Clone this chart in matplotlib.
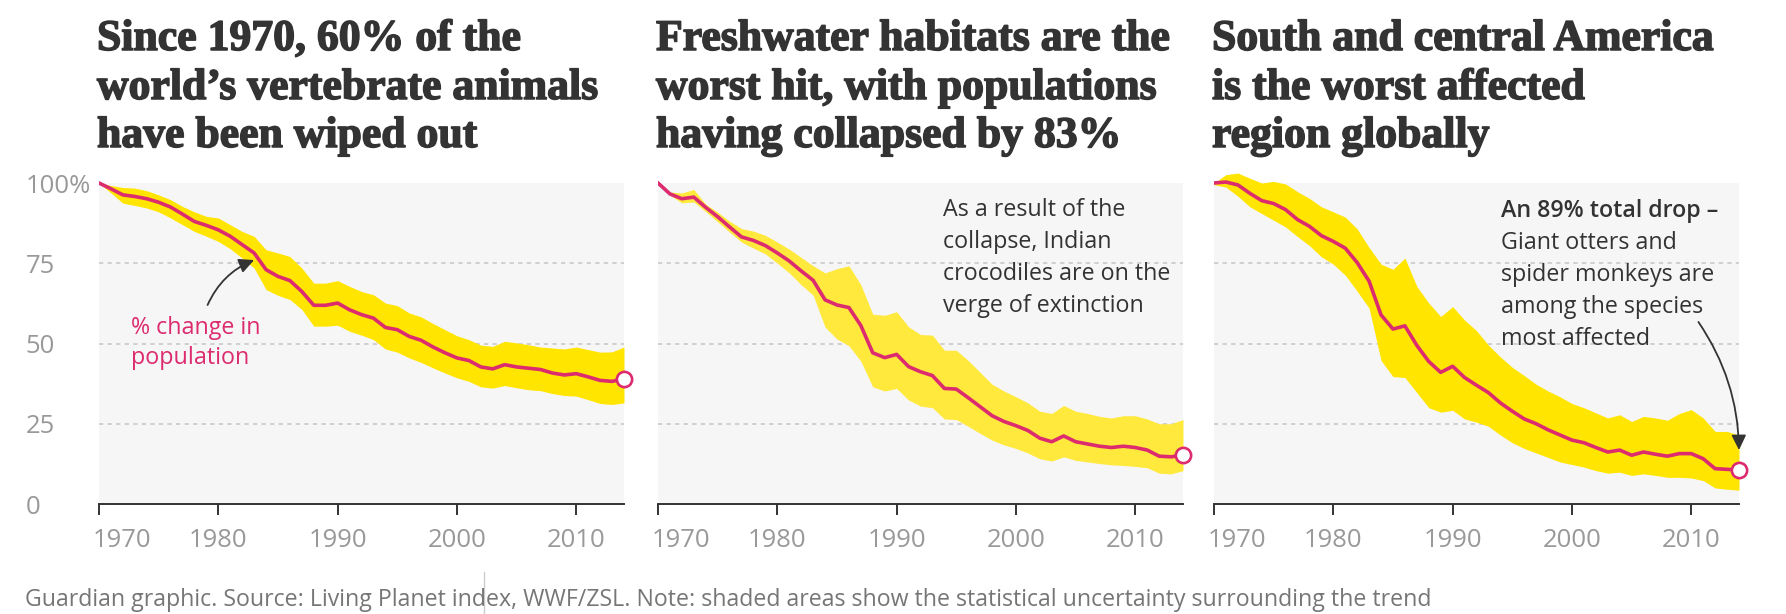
import matplotlib
matplotlib.use("Agg")
import matplotlib.pyplot as plt
import matplotlib.patheffects as pe
from matplotlib.font_manager import FontProperties
from matplotlib.textpath import TextPath
from matplotlib.transforms import ScaledTranslation
from matplotlib.lines import Line2D

# ---------------- data ----------------
years = list(range(1970, 2015))

global_mid = [100, 98.2, 96.3, 95.8, 95.1, 94.0, 92.5, 90.3, 88.0, 86.8,
              85.4, 83.4, 80.8, 78.2, 73.0, 70.9, 69.6, 66.2, 61.9, 61.9,
              62.6, 60.5, 59.0, 57.9, 55.0, 54.3, 52.2, 51.0, 48.9, 47.1,
              45.5, 44.7, 42.7, 42.1, 43.4, 42.7, 42.3, 41.9, 40.8, 40.2,
              40.6, 39.6, 38.5, 38.2, 39.0]
global_hi = [100, 99.2, 98.6, 98.4, 97.6, 96.3, 94.8, 92.7, 91.0, 89.6,
             89.1, 87.0, 84.9, 83.4, 79.2, 78.2, 77.1, 73.5, 68.8, 68.8,
             69.6, 67.8, 66.2, 65.2, 62.6, 61.8, 59.5, 58.3, 56.2, 54.3,
             52.4, 51.2, 49.5, 49.1, 50.7, 50.2, 49.6, 48.9, 48.6, 48.3,
             48.9, 48.1, 47.3, 47.4, 48.9]
global_lo = [100, 96.9, 93.7, 93.0, 92.2, 91.0, 89.1, 87.0, 84.9, 83.4,
             81.8, 79.5, 76.6, 73.5, 66.8, 65.0, 63.7, 60.6, 55.4, 55.4,
             55.7, 53.8, 52.6, 51.2, 48.3, 47.3, 45.5, 44.1, 42.4, 40.8,
             39.3, 38.2, 36.5, 36.1, 36.9, 36.2, 35.6, 35.3, 34.4, 33.8,
             33.6, 32.5, 31.3, 31.0, 31.5]

fresh_mid = [100, 96.6, 95.1, 95.6, 92.4, 89.5, 86.3, 83.2, 82.1, 80.5,
             78.2, 75.7, 72.6, 69.7, 63.6, 62.0, 61.2, 55.6, 47.1, 45.6,
             46.6, 42.8, 41.2, 40.0, 36.0, 35.8, 33.1, 30.3, 27.5, 25.7,
             24.4, 22.9, 20.5, 19.4, 21.2, 19.4, 18.7, 18.0, 17.6, 18.0,
             17.6, 16.8, 14.9, 14.7, 15.2]
fresh_hi = [100, 97.2, 96.9, 98.0, 93.4, 90.9, 88.1, 85.8, 85.0, 83.7,
            81.6, 79.4, 76.8, 74.2, 72.0, 73.3, 74.2, 68.3, 59.1, 58.8,
            59.9, 55.2, 52.8, 52.6, 47.9, 47.9, 44.7, 41.0, 37.3, 35.2,
            33.4, 31.5, 28.9, 28.2, 30.7, 28.9, 28.2, 27.3, 26.8, 27.5,
            27.5, 26.5, 25.0, 25.0, 26.3]
fresh_lo = [100, 96.2, 93.8, 94.1, 91.1, 87.9, 84.7, 81.6, 79.7, 77.9,
            75.0, 72.0, 68.3, 65.1, 55.1, 51.4, 49.3, 44.5, 36.5, 35.2,
            36.0, 32.4, 30.5, 30.0, 26.5, 26.3, 24.2, 22.0, 19.9, 18.4,
            17.3, 15.9, 14.1, 13.4, 14.7, 13.6, 13.1, 12.6, 12.2, 12.0,
            11.7, 11.3, 9.6, 9.4, 10.4]

latam_mid = [100, 100.3, 99.4, 96.8, 94.5, 93.6, 91.7, 88.6, 86.5, 83.6,
             81.8, 79.7, 75.2, 69.4, 58.9, 54.5, 55.5, 49.4, 44.4, 41.0,
             42.9, 39.4, 37.0, 34.7, 31.5, 28.9, 26.5, 25.0, 23.1, 21.5,
             19.9, 19.1, 17.6, 16.2, 16.8, 15.2, 16.2, 15.5, 14.9, 15.7,
             15.7, 14.1, 11.0, 10.8, 10.6]
latam_hi = [100, 102.6, 103.1, 101.5, 100.0, 100.5, 99.7, 97.3, 95.2, 92.6,
            91.0, 89.4, 85.7, 79.9, 74.7, 73.1, 76.6, 67.8, 62.6, 58.4,
            61.5, 57.3, 54.0, 49.5, 45.8, 42.6, 40.0, 37.3, 35.2, 33.4,
            31.3, 30.0, 28.4, 26.8, 27.8, 25.7, 27.3, 26.8, 26.1, 28.2,
            29.4, 26.8, 22.6, 22.6, 21.5]
latam_lo = [99.5, 98.7, 95.9, 92.6, 90.5, 88.4, 86.3, 83.3, 80.5, 77.0,
            74.7, 71.3, 66.3, 61.0, 44.7, 39.7, 39.4, 34.7, 30.0, 28.6,
            29.2, 26.5, 25.5, 24.2, 21.5, 19.1, 17.3, 15.9, 14.5, 13.1,
            12.3, 11.5, 10.4, 9.6, 9.9, 8.9, 9.4, 8.9, 8.3, 8.3,
            8.1, 7.3, 5.0, 4.6, 4.3]

titles = [
    ["Since 1970, 60% of the", "world\u2019s vertebrate animals", "have been wiped out"],
    ["Freshwater habitats are the", "worst hit, with populations", "having collapsed by 83%"],
    ["South and central America", "is the worst affected", "region globally"],
]
xtick_years = [1970, 1980, 1990, 2000, 2010]
ytick_vals = [0, 25, 50, 75, 100]
ytick_labels = ["0", "25", "50", "75", "100%"]
grid_vals = [25, 50, 75]

note1 = ["% change in", "population"]
note2 = ["As a result of the", "collapse, Indian", "crocodiles are on the", "verge of extinction"]
note3_head = "An 89% total drop \u2013"
note3 = ["Giant otters and", "spider monkeys are", "among the species", "most affected"]
footnote = ("Guardian graphic. Source: Living Planet index, WWF/ZSL. Note: shaded areas "
            "show the statistical uncertainty surrounding the trend")

# ---------------- style ----------------
PINK = "#dc2b6f"
YELLOWS = ["#ffe500", "#ffe93c", "#ffe500"]
DARK = "#333333"
TICKGREY = "#999999"
BG = "#f6f6f6"
GRIDC = "#cfcfcf"

W, H = 1786, 614
DPI = 100
fig = plt.figure(figsize=(W / DPI, H / DPI), dpi=DPI)
fig.patch.set_facecolor("white")

SANS = ["Open Sans", "DejaVu Sans"]
SERIF = ["Liberation Serif", "DejaVu Serif"]


def fx(px):
    return px / W


def fy(py):
    return 1 - py / H


def fit_pt(s, target_px, family, weight="normal"):
    fp = FontProperties(family=family, weight=weight)
    w = TextPath((0, 0), s, size=100, prop=fp).get_extents().width
    return 100 * target_px * 72.0 / DPI / w


title_size = fit_pt(titles[0][1], 500, SERIF, "bold")
note_size = fit_pt(note2[0], 181, SANS)
tick_size = fit_pt("1980", 55, SANS)
foot_size = fit_pt(footnote, 1400, SANS)

ax_lefts = [99, 658, 1214]
ax_w = 525
y0_px, y100_px = 504, 183
ymax = 106
px_per = (y0_px - y100_px) / 100.0
top_px = y0_px - ymax * px_per

series = [(global_mid, global_lo, global_hi),
          (fresh_mid, fresh_lo, fresh_hi),
          (latam_mid, latam_lo, latam_hi)]

axes = []
for i, left in enumerate(ax_lefts):
    ax = fig.add_axes([fx(left), fy(y0_px), ax_w / W, (y0_px - top_px) / H])
    ax.set_facecolor("none")
    ax.set_xlim(years[0], years[-1])
    ax.set_ylim(0, ymax)
    for s in ["top", "right", "left"]:
        ax.spines[s].set_visible(False)
    ax.spines["bottom"].set_color(DARK)
    ax.spines["bottom"].set_linewidth(1.4)
    ax.axhspan(0, 100, color=BG, lw=0, zorder=0)
    for g in grid_vals:
        ax.axhline(g, color=GRIDC, lw=1.4, ls=(0, (2.2, 2.2)), zorder=1)
    mid, lo, hi = series[i]
    ax.fill_between(years, lo, hi, color=YELLOWS[i], lw=0, zorder=2)
    ax.plot(years, mid, color=PINK, lw=2.6, zorder=3, solid_joinstyle="round")
    ax.plot([years[-1]], [mid[-1]], "o", ms=11, mfc="white", mec=PINK, mew=1.9,
            zorder=4, clip_on=False)

    ax.set_xticks(xtick_years, labels=[str(y) for y in xtick_years])
    ax.tick_params(axis="x", direction="out", length=8, width=1.4, color=DARK,
                   labelcolor=TICKGREY, labelsize=tick_size, pad=9)
    for lab in ax.get_xticklabels():
        lab.set_fontfamily(SANS)
    first = ax.get_xticklabels()[0]
    first.set_horizontalalignment("left")
    first.set_transform(first.get_transform() +
                        ScaledTranslation(-6 / DPI, 0, fig.dpi_scale_trans))
    if i == 0:
        ax.set_yticks(ytick_vals, labels=ytick_labels)
        ax.tick_params(axis="y", length=0, pad=53, labelcolor=TICKGREY,
                       labelsize=tick_size)
        for lab in ax.get_yticklabels():
            lab.set_horizontalalignment("left")
            lab.set_fontfamily(SANS)
    else:
        ax.set_yticks([])
    axes.append(ax)

# titles (stroke added to approximate the heavier headline face)
title_fx = [pe.withStroke(linewidth=1.1, foreground=DARK)]
title_baselines = [50, 99, 147]
for i, left in enumerate(ax_lefts):
    for line, yb in zip(titles[i], title_baselines):
        fig.text(fx(left - 2), fy(yb), line, fontsize=title_size, family=SERIF,
                 weight="bold", color=DARK, va="baseline", ha="left",
                 path_effects=title_fx)

# panel 1 note + arrow
for line, yb in zip(note1, [334, 364]):
    fig.text(fx(131), fy(yb), line, fontsize=note_size, family=SANS, color=PINK,
             va="baseline", ha="left")
axes[0].annotate("", xy=(1983.0, 76.0), xytext=(1979.1, 62.0),
                 arrowprops=dict(arrowstyle="-|>,head_length=0.45,head_width=0.22",
                                 mutation_scale=20, lw=1.3, color=DARK,
                                 shrinkA=0, shrinkB=0,
                                 connectionstyle="arc3,rad=-0.2"))

# panel 2 note
for line, yb in zip(note2, [216, 248, 280, 312]):
    fig.text(fx(943), fy(yb), line, fontsize=note_size, family=SANS, color=DARK,
             va="baseline", ha="left")

# panel 3 note + arrow
fig.text(fx(1501), fy(217), note3_head, fontsize=note_size, family=SANS,
         weight="semibold", color=DARK, va="baseline", ha="left")
for line, yb in zip(note3, [249, 281, 313, 345]):
    fig.text(fx(1501), fy(yb), line, fontsize=note_size, family=SANS, color=DARK,
             va="baseline", ha="left")
axes[2].annotate("", xy=(2014.0, 16.8), xytext=(2010.6, 56.7),
                 arrowprops=dict(arrowstyle="-|>,head_length=0.45,head_width=0.22",
                                 mutation_scale=20, lw=1.3, color=DARK,
                                 shrinkA=0, shrinkB=0,
                                 connectionstyle="arc3,rad=-0.15"),
                 annotation_clip=False)

# footnote
fig.text(fx(25), fy(606), footnote, fontsize=foot_size, family=SANS,
         color="#767676", va="baseline", ha="left")
fig.add_artist(Line2D([fx(484), fx(484)], [fy(572), fy(614)],
                      transform=fig.transFigure, color="#cccccc", lw=1.0))

fig.savefig("out.png", dpi=DPI, facecolor="white")
